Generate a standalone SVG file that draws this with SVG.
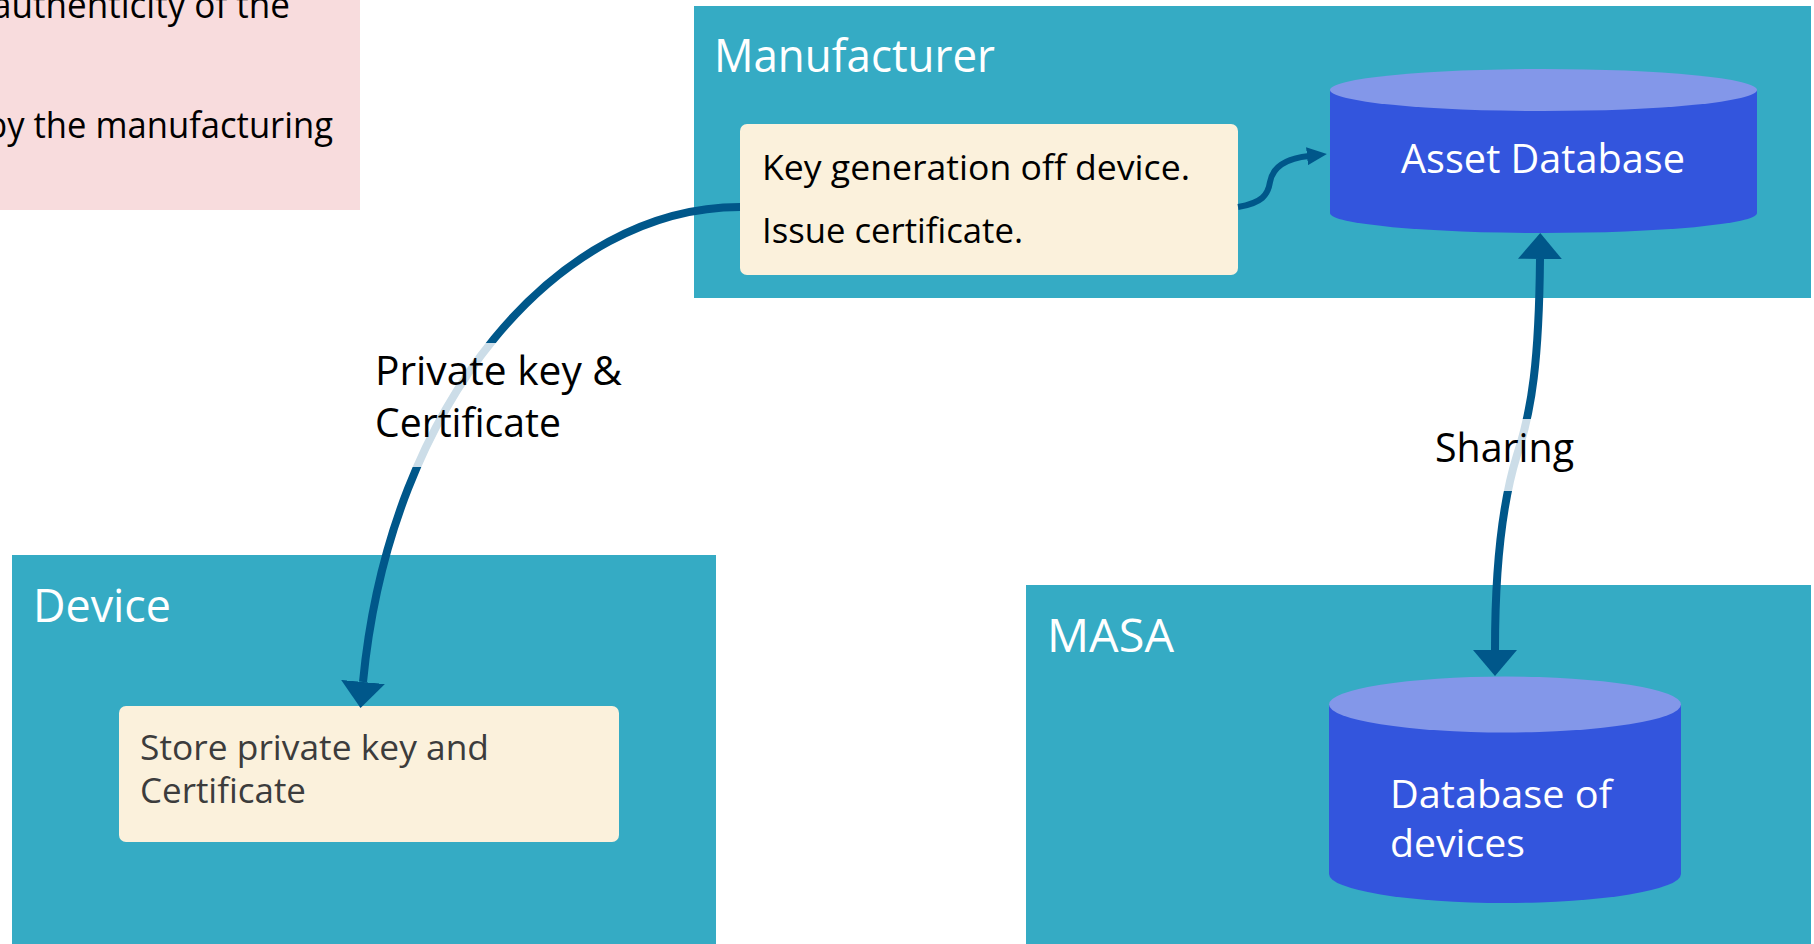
<svg xmlns="http://www.w3.org/2000/svg" width="1814" height="944" viewBox="0 0 1814 944">
<defs>
<style>
text{font-family:"Open Sans","Noto Sans","Liberation Sans",sans-serif}
.container{fill:#35abc4}
.title{fill:#ffffff;font-size:45px}
.note{fill:#fbf1dc}
.notetext{fill:#000000;font-size:35px}
.notetext2{fill:#3c3c3c;font-size:35px}
.cylbody{fill:#3355dd}
.cyltop{fill:#8397e9}
.cyltext{fill:#ffffff;font-size:40px}
.cyltext2{fill:#ffffff;font-size:38px}
.label{fill:#000000;font-size:40px}
.labelbg{fill:#ffffff;fill-opacity:0.8}
.conn{fill:none;stroke:#00578a;stroke-width:8}
.conn-small{fill:none;stroke:#00578a;stroke-width:6}
</style>
<marker id="bigHead" viewBox="0 0 26 44" refX="0" refY="22" markerWidth="26" markerHeight="44" markerUnits="userSpaceOnUse" orient="auto-start-reverse">
<path d="M0,0 L26,22 L0,44 Z" fill="#00578a"/>
</marker>
<marker id="smallHead" viewBox="0 0 20 18" refX="2" refY="9" markerWidth="20" markerHeight="18" markerUnits="userSpaceOnUse" orient="auto">
<path d="M0,0 L20,9 L0,18 Z" fill="#00578a"/>
</marker>
</defs>

<g id="note-top-left">
<rect x="0" y="0" width="360" height="210" fill="#f8dcdd"/>
<text x="-8" y="18" font-size="36" fill="#000" textLength="298" lengthAdjust="spacingAndGlyphs">authenticity of the</text>
<text x="-14" y="138" font-size="36" fill="#000" textLength="347" lengthAdjust="spacingAndGlyphs">by the manufacturing</text>
</g>

<g id="manufacturer">
<rect class="container" x="694" y="6" width="1117" height="292"/>
<text class="title" x="714" y="72" textLength="281" lengthAdjust="spacingAndGlyphs">Manufacturer</text>
</g>

<g id="keygen">
<rect class="note" x="740" y="124" width="498" height="151" rx="7"/>
<text class="notetext" x="762" y="180" textLength="428" lengthAdjust="spacingAndGlyphs">Key generation off device.</text>
<text class="notetext" x="762" y="243" textLength="261" lengthAdjust="spacingAndGlyphs">Issue certificate.</text>
</g>

<g id="asset-db">
<path class="cylbody" d="M1330,90 L1330,213 A213.5,20 0 0 0 1757,213 L1757,90 Z"/>
<ellipse class="cyltop" cx="1543.5" cy="90" rx="213.5" ry="21"/>
<text class="cyltext" x="1401" y="173" textLength="284" lengthAdjust="spacingAndGlyphs">Asset Database</text>
</g>

<g id="device">
<rect class="container" x="12" y="555" width="704" height="400"/>
<text class="title" x="33" y="622" textLength="138" lengthAdjust="spacingAndGlyphs">Device</text>
</g>

<g id="store">
<rect class="note" x="119" y="706" width="500" height="136" rx="7"/>
<text class="notetext2" x="140" y="760" textLength="349" lengthAdjust="spacingAndGlyphs">Store private key and</text>
<text class="notetext2" x="140" y="803" textLength="166" lengthAdjust="spacingAndGlyphs">Certificate</text>
</g>

<g id="masa">
<rect class="container" x="1026" y="585" width="785" height="370"/>
<text class="title" x="1047" y="652" textLength="127" lengthAdjust="spacingAndGlyphs">MASA</text>
</g>

<g id="device-db">
<path class="cylbody" d="M1329,704.5 L1329,874 A176,29 0 0 0 1681,874 L1681,704.5 Z"/>
<ellipse class="cyltop" cx="1505" cy="704.5" rx="176" ry="28"/>
<text class="cyltext2" x="1390" y="808" textLength="222" lengthAdjust="spacingAndGlyphs">Database of</text>
<text class="cyltext2" x="1390" y="857" textLength="135" lengthAdjust="spacingAndGlyphs">devices</text>
</g>

<g id="connectors">
<path class="conn-small" d="M1238,207 C1262,203 1268,195 1270,182 C1273,165 1290,158 1309,156" marker-end="url(#smallHead)"/>
<path class="conn" d="M740,207 C560,207 390,400 363,682" marker-end="url(#bigHead)"/>
<rect class="labelbg" x="372" y="343" width="252" height="124"/>
<text class="label" x="375" y="385" textLength="247" lengthAdjust="spacingAndGlyphs">Private key &amp;</text>
<text class="label" x="375" y="437" textLength="186" lengthAdjust="spacingAndGlyphs">Certificate</text>
<path class="conn" d="M1540,259 C1539,360 1532,410 1517,455 C1503,500 1495,560 1495,650" marker-start="url(#bigHead)" marker-end="url(#bigHead)"/>
<rect class="labelbg" x="1432" y="419" width="146" height="72"/>
<text class="label" x="1435" y="462" textLength="139" lengthAdjust="spacingAndGlyphs">Sharing</text>
</g>
</svg>
